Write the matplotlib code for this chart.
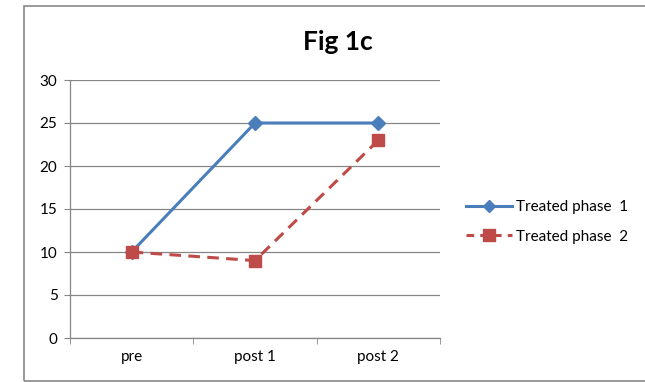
import matplotlib.pyplot as plt
from matplotlib.patches import Rectangle
from matplotlib.lines import Line2D

categories = ['pre', 'post 1', 'post 2']
phase1 = [10, 25, 25]
phase2 = [10, 9, 23]
yticks = [0, 5, 10, 15, 20, 25, 30]

blue = '#4A7EBB'
red = '#BE4B48'
grid_grey = '#868686'

plt.rcParams['font.family'] = ['Lato', 'DejaVu Sans']

fig = plt.figure(figsize=(6.45, 3.82), dpi=100)
# chart frame, right edge runs off the canvas
fig.patches.append(Rectangle((24 / 645, 0.003), 1.0, 0.98, transform=fig.transFigure,
                             fill=False, edgecolor='#878787', linewidth=1.2))

ax = fig.add_axes([70 / 645, 1 - 338 / 382, 370 / 645, 258 / 382])
x = list(range(len(categories)))
ax.plot(x, phase1, color=blue, linewidth=2.2, marker='D', markersize=7,
        markerfacecolor=blue, markeredgecolor=blue, label='Treated phase  1', zorder=3)
ax.plot(x, phase2, color=red, linewidth=2.2, linestyle=(0, (3.8, 2.4)), marker='s',
        markersize=8.5, markerfacecolor=red, markeredgecolor=red,
        label='Treated phase  2', zorder=4)

ax.set_xlim(-0.5, 2.5)
ax.set_ylim(0, 30)
ax.set_yticks(yticks)
ax.yaxis.grid(True, color=grid_grey, linewidth=0.9)
ax.set_axisbelow(True)

ax.set_xticks(x)
ax.set_xticklabels(categories)
ax.set_xticks([-0.5, 0.5, 1.5, 2.5], minor=True)
ax.tick_params(axis='x', which='major', length=0, pad=9, labelsize=11)
ax.tick_params(axis='x', which='minor', length=4, color=grid_grey, direction='out')
ax.tick_params(axis='y', length=4, color=grid_grey, pad=5, labelsize=11)

for side in ['top', 'right']:
    ax.spines[side].set_visible(False)
for side in ['left', 'bottom']:
    ax.spines[side].set_color(grid_grey)
    ax.spines[side].set_linewidth(0.9)

fig.text(338 / 645, 1 - 42 / 382, 'Fig 1c', ha='center', va='center',
         fontsize=19, fontweight='bold')

handles = [
    Line2D([], [], color=blue, linewidth=2.2, marker='D', markersize=6),
    Line2D([], [], color=red, linewidth=2.2, linestyle=(0, (2.5, 2)), marker='s',
           markersize=8),
]
fig.legend(handles, ['Treated phase  1', 'Treated phase  2'],
           loc='center left', bbox_to_anchor=(452 / 645, 1 - 222 / 382),
           frameon=False, fontsize=11, handlelength=3.0, handletextpad=0.3,
           labelspacing=1.0)

fig.savefig('out.png', dpi=100)
